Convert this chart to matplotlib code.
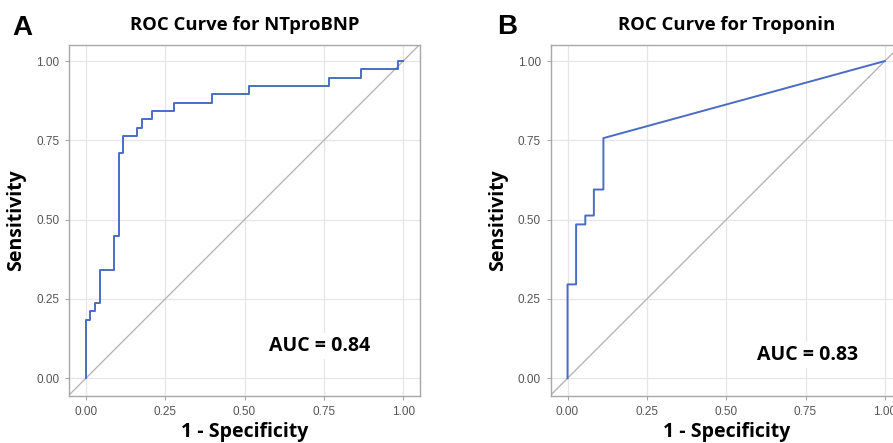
import numpy as np
import matplotlib
matplotlib.use("Agg")
import matplotlib.pyplot as plt

# ROC data
fpr_bnp = [0.0, 0.0, 0.013, 0.013, 0.029, 0.029, 0.044, 0.044, 0.089, 0.089,
           0.103, 0.103, 0.118, 0.118, 0.162, 0.162, 0.176, 0.176, 0.207, 0.207,
           0.278, 0.278, 0.397, 0.397, 0.515, 0.515, 0.765, 0.765, 0.867, 0.867,
           0.984, 0.984, 1.0]
tpr_bnp = [0.0, 0.184, 0.184, 0.211, 0.211, 0.237, 0.237, 0.342, 0.342, 0.447,
           0.447, 0.711, 0.711, 0.763, 0.763, 0.789, 0.789, 0.816, 0.816, 0.842,
           0.842, 0.868, 0.868, 0.895, 0.895, 0.921, 0.921, 0.947, 0.947, 0.974,
           0.974, 1.0, 1.0]

fpr_trop = [0.0, 0.0, 0.027, 0.027, 0.056, 0.056, 0.083, 0.083, 0.113, 0.113, 1.0]
tpr_trop = [0.0, 0.296, 0.296, 0.485, 0.485, 0.513, 0.513, 0.595, 0.595, 0.757, 1.0]

titles = ["ROC Curve for NTproBNP", "ROC Curve for Troponin"]
letters = ["A", "B"]
auc_text = ["AUC = 0.84", "AUC = 0.83"]
auc_pos = [(0.738, 0.102), (0.758, 0.073)]
ticks = [0.0, 0.25, 0.5, 0.75, 1.0]
tick_labels = ["0.00", "0.25", "0.50", "0.75", "1.00"]

bold_font = ["Open Sans", "DejaVu Sans"]
tick_font = ["Liberation Sans", "DejaVu Sans"]
blue = "#4a6cc4"
frame = "#a8a8a8"

fig = plt.figure(figsize=(8.93, 4.43), dpi=100)
axes = [fig.add_axes([0.0773, 0.106, 0.393, 0.792]),
        fig.add_axes([0.6167, 0.106, 0.393, 0.792])]
data = [(fpr_bnp, tpr_bnp), (fpr_trop, tpr_trop)]

for i, ax in enumerate(axes):
    x, y = data[i]
    ax.set_xlim(-0.053, 1.053)
    ax.set_ylim(-0.056, 1.05)
    ax.grid(True, color="#e6e6e6", lw=0.9, zorder=0)
    ax.set_axisbelow(True)
    ax.plot([-0.1, 1.1], [-0.1, 1.1], color="#b0b0b0", lw=0.9, zorder=1)
    ax.plot(x, y, color=blue, lw=1.4, zorder=3)
    ax.set_xticks(ticks)
    ax.set_yticks(ticks)
    ax.set_xticklabels(tick_labels, family=tick_font, fontsize=8.5, color="#555555")
    ax.set_yticklabels(tick_labels, family=tick_font, fontsize=8.5, color="#555555")
    ax.tick_params(length=3, color=frame, width=0.8, pad=4)
    for s in ax.spines.values():
        s.set_color(frame)
        s.set_linewidth(1.0)
    ax.set_xlabel("1 - Specificity", family=bold_font, fontweight="bold",
                  fontsize=14, labelpad=3)
    ax.set_ylabel("Sensitivity", family=bold_font, fontweight="bold",
                  fontsize=14, labelpad=7)
    ax.set_title(titles[i], family=bold_font, fontweight="bold", fontsize=13.3, pad=11)
    ax.text(auc_pos[i][0], auc_pos[i][1], auc_text[i], family=bold_font,
            fontweight="bold", fontsize=14, ha="center", va="center", zorder=4,
            bbox=dict(facecolor="white", edgecolor="none", pad=2))

fig.text(12 / 893, 1 - 28 / 443, letters[0], family=["Liberation Sans", "DejaVu Sans"],
         fontweight="bold", fontsize=20, va="center", ha="left")
fig.text(497 / 893, 1 - 27 / 443, letters[1], family=["Liberation Sans", "DejaVu Sans"],
         fontweight="bold", fontsize=20, va="center", ha="left")

fig.savefig("out.png", dpi=100, facecolor="white")
